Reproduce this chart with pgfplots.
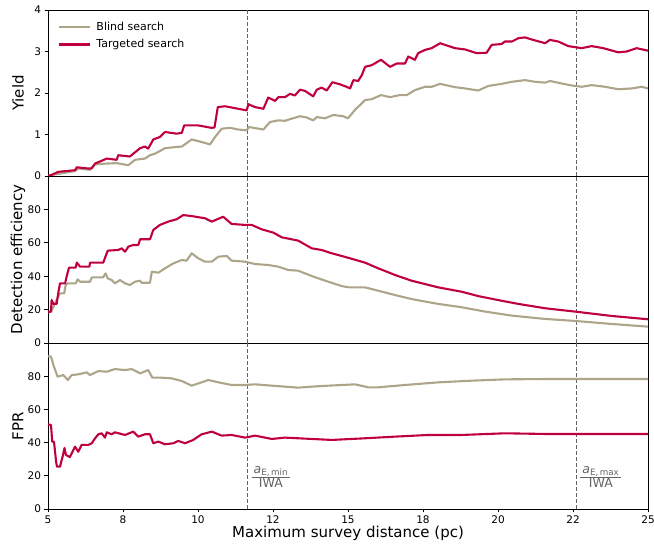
\documentclass[border=0pt]{standalone}
\usepackage{pgfplots}
\pgfplotsset{compat=1.18}
\usepackage{fontspec}
\setmainfont{DejaVu Sans}
\definecolor{tgt}{RGB}{192,0,62}
\definecolor{bld}{RGB}{173,165,138}
\definecolor{dsh}{RGB}{100,100,100}
\pgfplotsset{
 panel/.style={scale only axis, width=600pt, xmin=5, xmax=25, ymin=0, anchor=south west,
  axis line style={black, line width=0.8pt},
  tick align=outside, tick pos=left, major tick length=3.5pt,
  tick style={black, line width=0.8pt},
  ticklabel style={font=\fontsize{10.5}{12}\selectfont},
  /pgf/number format/assume math mode=true,
  ylabel style={at={(axis description cs:-0.05,0.5)}, anchor=center, font=\fontsize{15}{18}\selectfont},
  clip=true},
 bl/.style={color=bld, line width=2.1pt, line join=round},
 tg/.style={color=tgt, line width=2.1pt, line join=round},
 dl/.style={color=dsh, line width=0.8pt, dash pattern=on 3.5pt off 2.5pt, forget plot},
}
\begin{document}
\begin{tikzpicture}
\useasboundingbox (0,0) rectangle (654pt,544pt);
% ---------- Top: Yield
\begin{axis}[panel, at={(48pt,368pt)}, height=166pt, ymax=4, ytick={0,1,2,3,4}, xtick=\empty,
  ylabel={Yield},
  legend style={at={(axis description cs:0.012,0.955)}, anchor=north west, draw=none, fill=none,
    font=\fontsize{11}{13}\selectfont, row sep=4pt, nodes={inner xsep=5pt}},
  legend cell align=left,
  legend image code/.code={\draw[#1] (0pt,0pt) -- (24pt,0pt); \path (0pt,0pt) -- (31pt,0pt);}]
\addplot[dl] coordinates {(11.63,0) (11.63,4)};
\addplot[dl] coordinates {(22.6,0) (22.6,4)};
\addplot[bl] coordinates {(5.0,0) (5.1,0.02) (5.9,0.12) (6.01,0.18) (6.4,0.15) (6.57,0.28) (6.96,0.30) (7.29,0.31) (7.68,0.26) (7.9,0.39) (8.23,0.42) (8.4,0.50) (8.57,0.54) (8.9,0.67) (9.29,0.70) (9.46,0.71) (9.79,0.88) (10.12,0.82) (10.4,0.76) (10.57,0.94) (10.79,1.14) (11.07,1.16) (11.34,1.12) (11.62,1.10) (11.7,1.18) (12.18,1.12) (12.4,1.30) (12.68,1.34) (12.9,1.33) (13.07,1.37) (13.4,1.44) (13.62,1.41) (13.84,1.34) (13.96,1.42) (14.23,1.39) (14.51,1.47) (14.84,1.44) (15.0,1.39) (15.23,1.59) (15.57,1.83) (15.79,1.85) (16.1,1.95) (16.4,1.90) (16.73,1.95) (16.96,1.95) (17.23,2.07) (17.57,2.15) (17.79,2.15) (18.07,2.22) (18.57,2.14) (18.9,2.11) (19.34,2.06) (19.68,2.17) (20.12,2.22) (20.46,2.27) (20.9,2.31) (21.23,2.27) (21.57,2.25) (21.73,2.29) (22.12,2.23) (22.46,2.18) (22.79,2.15) (23.12,2.19) (23.57,2.15) (24.01,2.09) (24.46,2.11) (24.79,2.15) (25.0,2.11)};
\addlegendentry{Blind search}
\addplot[tg] coordinates {(5.0,0) (5.1,0.02) (5.34,0.10) (5.9,0.14) (5.96,0.21) (6.35,0.18) (6.45,0.18) (6.57,0.30) (6.96,0.42) (7.29,0.39) (7.34,0.50) (7.73,0.47) (8.07,0.67) (8.23,0.71) (8.34,0.66) (8.51,0.88) (8.73,0.94) (8.9,1.06) (9.29,1.02) (9.46,1.04) (9.54,1.22) (10.0,1.22) (10.45,1.16) (10.55,1.17) (10.66,1.66) (10.9,1.68) (11.34,1.62) (11.62,1.58) (11.68,1.73) (11.9,1.66) (12.18,1.62) (12.34,1.89) (12.57,1.81) (12.68,1.90) (12.9,1.90) (13.07,1.98) (13.23,1.94) (13.4,2.08) (13.57,2.05) (13.84,1.92) (13.96,2.08) (14.12,2.13) (14.29,2.06) (14.48,2.26) (14.73,2.21) (14.95,2.15) (15.07,2.11) (15.18,2.31) (15.34,2.29) (15.46,2.43) (15.57,2.63) (15.79,2.67) (16.1,2.80) (16.4,2.63) (16.62,2.71) (16.9,2.71) (17.01,2.88) (17.23,2.80) (17.34,2.96) (17.57,3.04) (17.79,3.08) (18.07,3.20) (18.23,3.16) (18.57,3.08) (18.9,3.05) (19.29,2.96) (19.62,2.97) (19.79,3.16) (20.12,3.18) (20.23,3.24) (20.46,3.24) (20.68,3.32) (20.9,3.34) (21.12,3.29) (21.57,3.20) (21.73,3.28) (22.01,3.24) (22.34,3.13) (22.79,3.08) (23.12,3.13) (23.51,3.08) (24.01,2.98) (24.29,3.0) (24.62,3.08) (25.0,3.02)};
\addlegendentry{Targeted search}
\end{axis}
% ---------- Middle: Detection efficiency
\begin{axis}[panel, at={(48pt,201pt)}, height=167pt, ymax=100, ytick={0,20,40,60,80}, xtick=\empty,
  ylabel={Detection efficiency}]
\addplot[dl] coordinates {(11.63,0) (11.63,100)};
\addplot[dl] coordinates {(22.6,0) (22.6,100)};
\addplot[bl] coordinates {(5.0,18.5) (5.1,18.8) (5.34,27.7) (5.4,29.7) (5.54,29.7) (5.59,34.7) (5.66,35.7) (5.92,35.7) (5.99,38.1) (6.07,36.7) (6.4,36.7) (6.46,39.3) (6.84,39.3) (6.92,41.7) (6.99,38.7) (7.12,37.7) (7.23,35.7) (7.4,37.7) (7.57,35.7) (7.73,34.7) (7.9,36.7) (8.07,37.3) (8.12,36.1) (8.4,36.1) (8.46,42.7) (8.68,42.1) (8.9,44.7) (9.18,47.7) (9.46,49.7) (9.62,49.3) (9.79,53.7) (10.01,50.7) (10.23,48.7) (10.46,48.7) (10.68,51.7) (10.96,52.1) (11.12,49.3) (11.57,48.7) (11.9,47.3) (12.34,46.7) (12.68,45.7) (13.01,43.7) (13.34,43.3) (13.79,40.1) (14.34,36.7) (14.79,34.1) (15.03,33.3) (15.57,33.3) (16.01,31.3) (16.57,28.7) (17.12,26.3) (18.01,23.4) (18.79,21.4) (19.57,18.8) (20.46,16.4) (21.57,14.4) (22.57,13.2) (23.79,11.4) (25.0,9.8)};
\addplot[tg] coordinates {(5.0,18.5) (5.1,18.8) (5.12,25.7) (5.18,23.4) (5.29,23.4) (5.34,29.7) (5.4,35.7) (5.57,35.7) (5.62,39.7) (5.7,45.1) (5.92,45.1) (5.96,48.1) (6.07,45.7) (6.38,45.7) (6.4,48.1) (6.84,48.1) (6.99,55.3) (7.34,55.7) (7.46,56.7) (7.57,54.7) (7.68,57.7) (7.84,58.7) (8.01,58.7) (8.07,62.1) (8.4,62.1) (8.51,67.7) (8.73,70.7) (9.01,72.7) (9.29,74.1) (9.51,76.6) (9.79,76.0) (10.23,74.7) (10.46,72.7) (10.84,75.6) (11.12,71.3) (11.57,70.7) (11.79,70.7) (12.12,68.1) (12.51,66.1) (12.79,63.3) (13.34,61.3) (13.79,56.7) (14.12,55.7) (14.46,53.7) (14.79,52.1) (15.03,50.9) (15.57,48.1) (16.01,44.7) (16.57,40.7) (17.12,37.3) (18.01,33.3) (18.79,30.7) (19.34,28.1) (20.12,25.3) (20.68,23.4) (21.57,20.8) (22.57,18.8) (23.79,16.2) (25.0,14.2)};
\end{axis}
% ---------- Bottom: FPR
\begin{axis}[panel, at={(48pt,35pt)}, height=166pt, ymax=100, ytick={0,20,40,60,80},
  xtick={5,7.5,10,12.5,15,17.5,20,22.5,25}, xticklabels={5,8,10,12,15,18,20,22,25},
  ylabel={FPR}, xlabel={Maximum survey distance (pc)},
  xlabel style={at={(axis description cs:0.5,-0.145)}, anchor=center, font=\fontsize{15}{18}\selectfont}]
\addplot[dl] coordinates {(11.63,0) (11.63,100)};
\addplot[dl] coordinates {(22.6,0) (22.6,100)};
\addplot[bl] coordinates {(5.0,92) (5.1,91.8) (5.18,86.7) (5.32,79.7) (5.51,80.7) (5.66,77.7) (5.79,80.7) (6.01,81.1) (6.29,82.3) (6.4,80.7) (6.68,83.1) (6.96,82.7) (7.23,84.3) (7.57,83.7) (7.79,84.3) (8.07,81.7) (8.34,83.7) (8.48,79.1) (8.79,79.1) (9.12,78.7) (9.46,77.1) (9.79,74.3) (10.12,76.3) (10.34,77.7) (10.68,76.3) (11.12,74.7) (11.57,74.7) (11.9,75.1) (12.46,74.3) (12.9,73.7) (13.34,73.1) (13.79,73.7) (14.34,74.3) (15.03,74.9) (15.23,75.1) (15.68,73.3) (16.01,73.3) (16.9,74.7) (18.01,76.3) (19.12,77.3) (20.23,78.1) (21.57,78.3) (25.0,78.3)};
\addplot[tg] coordinates {(5.0,51) (5.1,50.6) (5.14,40.6) (5.2,40.5) (5.24,33.7) (5.27,28.5) (5.3,25.5) (5.4,25.5) (5.5,32.5) (5.55,36.7) (5.6,32.5) (5.73,31.3) (5.9,37.5) (6.01,34.5) (6.12,38.6) (6.34,38.6) (6.46,39.6) (6.57,42.6) (6.68,45.0) (6.79,45.6) (6.9,43.0) (6.96,46.2) (7.12,45.0) (7.23,46.2) (7.57,44.6) (7.84,46.6) (8.01,43.6) (8.23,45.0) (8.4,45.0) (8.51,39.6) (8.68,40.6) (8.9,39.0) (9.18,39.6) (9.34,41.0) (9.57,39.6) (9.84,41.6) (10.12,45.0) (10.46,46.6) (10.79,44.2) (11.12,44.6) (11.57,43.0) (11.9,44.2) (12.46,42.2) (12.9,43.0) (13.34,42.6) (13.79,42.2) (14.46,41.6) (14.9,42.0) (15.57,42.6) (16.57,43.6) (17.68,44.6) (18.79,44.6) (20.23,45.6) (21.57,45.2) (25,45.2)};
\node[text=dsh, font=\fontsize{12.5}{14}\selectfont, inner sep=0pt] at (axis cs:12.43,18.7)
  {\setlength{\arrayrulewidth}{1pt}\renewcommand{\arraystretch}{0.95}\begin{tabular}{@{\,}c@{\,}}\textit{a}\textsubscript{E,\,min}\\\hline IWA\end{tabular}};
\node[text=dsh, font=\fontsize{12.5}{14}\selectfont, inner sep=0pt] at (axis cs:23.43,18.7)
  {\setlength{\arrayrulewidth}{1pt}\renewcommand{\arraystretch}{0.95}\begin{tabular}{@{\,}c@{\,}}\textit{a}\textsubscript{E,\,max}\\\hline IWA\end{tabular}};
\end{axis}
\end{tikzpicture}
\end{document}
